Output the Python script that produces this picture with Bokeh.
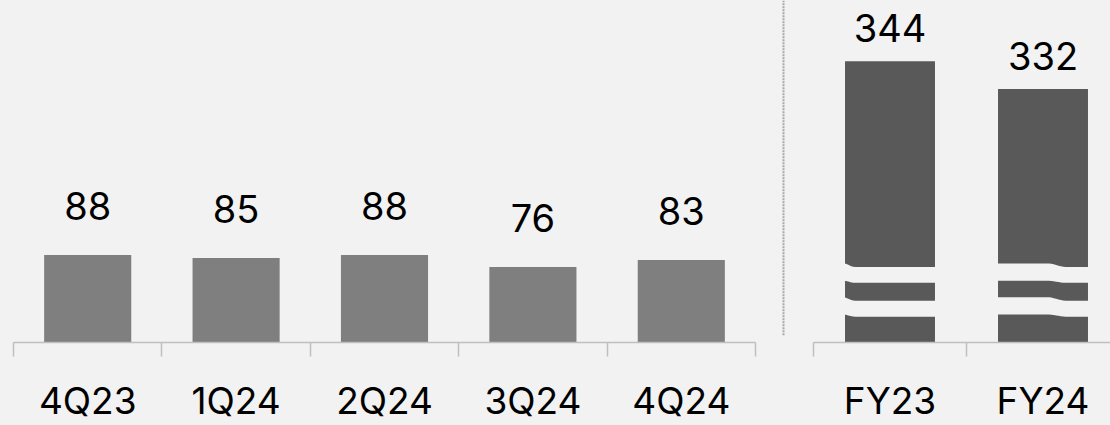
import numpy as np
from bokeh.plotting import figure
from bokeh.layouts import row
from bokeh.models import Range1d, FixedTicker, ColumnDataSource
from bokeh.core.properties import value
from bokeh.embed import file_html
from bokeh.resources import INLINE

# ---- data ----
quarters = ["4Q23", "1Q24", "2Q24", "3Q24", "4Q24"]
quarter_values = [88, 85, 88, 76, 83]
years = ["FY23", "FY24"]
year_values = [344, 332]

BG = "#f2f2f2"
FONT = "Inter"
AXIS_COL = "#bfbfbf"
H = 425
FRAME_H = 344          # frame top at y=0, bottom (axis) at 344
BOTTOM = H - FRAME_H   # 81


def style(p):
    p.background_fill_color = BG
    p.border_fill_color = BG
    p.outline_line_color = None
    p.xgrid.visible = False
    p.ygrid.visible = False
    p.yaxis.visible = False


def setup_xaxis(p, labels):
    n = len(labels)
    centers = [i + 0.5 for i in range(n)]
    ax = p.xaxis[0]
    ax.ticker = FixedTicker(ticks=centers, minor_ticks=list(range(n + 1)))
    ax.major_label_overrides = {c: l for c, l in zip(centers, labels)}
    ax.major_tick_out = 0
    ax.major_tick_in = 0
    ax.minor_tick_out = 14
    ax.minor_tick_in = 0
    ax.minor_tick_line_color = AXIS_COL
    ax.minor_tick_line_width = 1.5
    ax.axis_line_color = AXIS_COL
    ax.axis_line_width = 1.5
    ax.major_label_text_font = FONT
    ax.major_label_text_font_size = "37px"
    ax.major_label_text_color = "#000000"
    ax.major_label_standoff = 21


# ---- left panel: quarters ----
n_q = len(quarters)
left = figure(width=770, height=H, output_backend="svg", toolbar_location=None,
              x_range=Range1d(0, n_q), y_range=Range1d(0, FRAME_H),
              min_border_left=13, min_border_right=15, min_border_top=0,
              min_border_bottom=BOTTOM)
style(left)
setup_xaxis(left, quarters)
qsrc = ColumnDataSource(dict(x=[i + 0.5 for i in range(n_q)], top=quarter_values,
                             lab=[str(v) for v in quarter_values]))
left.vbar(x="x", top="top", bottom=0, width=0.587, source=qsrc,
          fill_color="#7f7f7f", line_color=None)
left.text(x="x", y="top", text="lab", source=qsrc, text_align="center",
          text_baseline="alphabetic", y_offset=-49,
          text_font=value(FONT), text_font_size="38px", text_color="#000000")

# ---- separator ----
sep = figure(width=30, height=H, output_backend="svg", toolbar_location=None,
             x_range=Range1d(0, 30), y_range=Range1d(0, H),
             x_axis_location=None, y_axis_location=None,
             min_border_left=0, min_border_right=0, min_border_top=0, min_border_bottom=0)
sep.background_fill_color = BG
sep.border_fill_color = BG
sep.outline_line_color = None
sep.xgrid.visible = False
sep.ygrid.visible = False
sep.segment(x0=[13], y0=[9], x1=[13], y1=[H], line_color="#a8a8a8",
            line_width=2, line_dash="2 1")

# ---- right panel: years (broken axis) ----
n_y = len(years)
px_per_unit = 2.333
top_pad_px = 61
y_end = max(year_values) + top_pad_px / px_per_unit
y_base = y_end - FRAME_H / px_per_unit
frame_w = 297
right = figure(width=310, height=H, output_backend="svg", toolbar_location=None,
               x_range=Range1d(0, frame_w / 153.0), y_range=Range1d(y_base, y_end),
               min_border_left=13, min_border_right=0, min_border_top=0,
               min_border_bottom=BOTTOM)
style(right)
setup_xaxis(right, years)
bw = 0.588
ysrc = ColumnDataSource(dict(x=[i + 0.5 for i in range(n_y)], top=year_values,
                             lab=[str(v) for v in year_values]))
right.vbar(x="x", top="top", bottom=y_base, width=bw, source=ysrc,
           fill_color="#595959", line_color=None)
right.text(x="x", y="top", text="lab", source=ysrc, text_align="center",
           text_baseline="alphabetic", y_offset=-33,
           text_font=value(FONT), text_font_size="38px", text_color="#000000")

# break marks (background-coloured wavy gaps across the broken bars)
unit = 1.0 / px_per_unit
gap_centers_px = [68, 34]
gap_h_px = 16
transitions = [(0.0, 0.12), (0.55, 0.75)]
xs_all, ys_all = [], []
for i in range(n_y):
    cx = i + 0.5
    t = np.linspace(0, 1, 40)
    t0, t1 = transitions[i]
    s = np.clip((t - t0) / (t1 - t0), 0, 1)
    lift = 3.5 * (1 - (3 * s ** 2 - 2 * s ** 3))  # px, left side higher
    xx = cx - bw / 2 - 0.01 + t * (bw + 0.02)
    for gc in gap_centers_px:
        top_edge = y_base + (gc + gap_h_px / 2 + lift) * unit
        bot_edge = y_base + (gc - gap_h_px / 2 + lift * 0.6) * unit
        xs_all.append(list(np.concatenate([xx, xx[::-1]])))
        ys_all.append(list(np.concatenate([top_edge, bot_edge[::-1]])))
right.patches(xs_all, ys_all, fill_color=BG, line_color=None)

layout = row(left, sep, right, spacing=0)
html = file_html(layout, INLINE)
html = html.replace("</head>", "<style>body{background:#f2f2f2;}</style></head>", 1)
open("out.html", "w").write(html)
